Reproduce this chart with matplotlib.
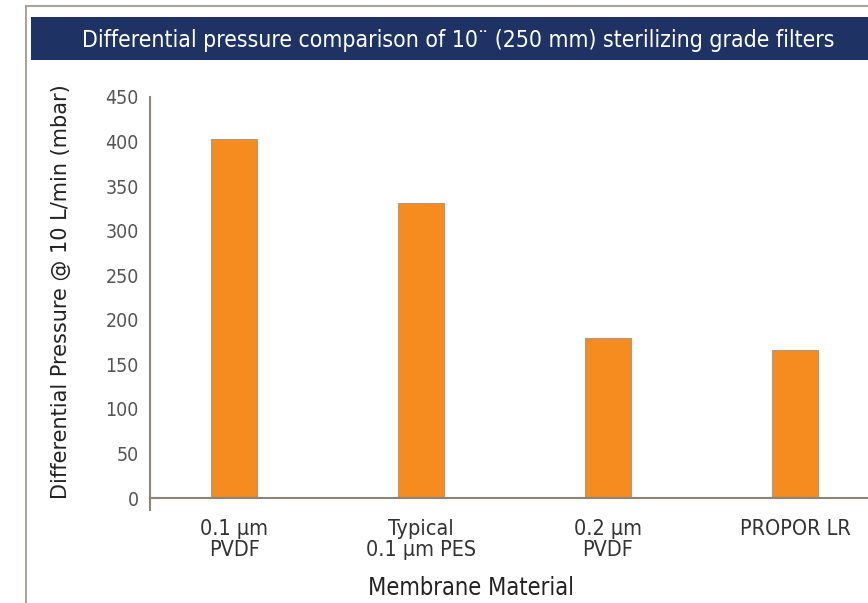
import matplotlib.pyplot as plt
from matplotlib.font_manager import FontProperties
from matplotlib.patches import Rectangle
from matplotlib.lines import Line2D

categories = ['0.1 µm\nPVDF', 'Typical\n0.1 µm PES', '0.2 µm\nPVDF', 'PROPOR LR']
pressure = [403, 331, 180, 166]
yticks = [0, 50, 100, 150, 200, 250, 300, 350, 400, 450]


def cond(size):
    return FontProperties(family='DejaVu Sans', stretch='condensed', size=size)


W, H = 868, 603
fig = plt.figure(figsize=(W / 100, H / 100), dpi=100)

# outer frame (left and top edges only visible)
fig.add_artist(Line2D([26 / W, 26 / W], [0, 1 - 6 / H], color='#a9a39b', lw=1.5))
fig.add_artist(Line2D([26 / W, 1], [1 - 6 / H, 1 - 6 / H], color='#a9a39b', lw=1.5))

# title banner
fig.add_artist(Rectangle((31 / W, 1 - 60 / H), 1, 43 / H, color='#1f3264', lw=0))
fig.text(458 / W, 1 - 40 / H, 'Differential pressure comparison of 10¨ (250 mm) sterilizing grade filters',
         ha='center', va='center', color='white', fontproperties=cond(16.5))

ax = fig.add_axes([150 / W, 1 - 498 / H, 729 / W, 401 / H])
x = list(range(len(categories)))
ax.bar(x, pressure, width=0.245, color='#f68b20', edgecolor='#a89c8c', linewidth=0.8, zorder=2)
ax.set_xlim(-0.45, len(categories) - 0.55)
ax.set_ylim(0, 450)

for s in ['top', 'right']:
    ax.spines[s].set_visible(False)
ax.spines['left'].set_color('#8c8479')
ax.spines['bottom'].set_color('#8c8479')
ax.spines['left'].set_linewidth(1.5)
ax.spines['bottom'].set_linewidth(1.5)
ax.spines['left'].set_bounds(-14, 450)
ax.plot([-0.45, -0.40], [0, 0], color='#8c8479', lw=1.5, clip_on=False)

ax.set_yticks(yticks)
ax.set_xticks(x)
ax.set_xticklabels(categories)
ax.tick_params(axis='x', length=0, pad=15)
ax.tick_params(axis='y', length=0, pad=8)
for lab in ax.get_yticklabels():
    lab.set_fontproperties(cond(14))
    lab.set_color('#555555')
for lab in ax.get_xticklabels():
    lab.set_fontproperties(cond(15.5))
    lab.set_color('#333333')
    lab.set_linespacing(1.05)

ax.set_xlabel('Membrane Material', fontproperties=cond(17), color='#222222')
ax.xaxis.set_label_coords((471 - 150) / 729, -(588 - 498) / 401)
ax.xaxis.label.set_va('center')
ax.set_ylabel('Differential Pressure @ 10 L/min (mbar)', fontsize=15, color='#222222')
ax.yaxis.set_label_coords(-(150 - 71) / 729, (498 - 292) / 401)

fig.savefig('out.png', dpi=100)
